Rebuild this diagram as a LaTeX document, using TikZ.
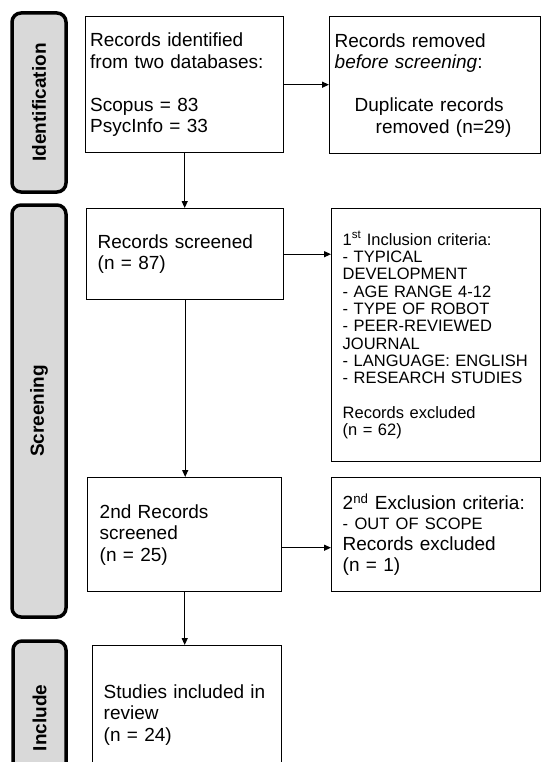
\documentclass[tikz,border=0pt]{standalone}
\usepackage{fontspec}
\setmainfont{Liberation Sans}
\usetikzlibrary{arrows.meta}
\definecolor{bargray}{HTML}{D9D9D9}

\begin{document}
\begin{tikzpicture}[x=1pt,y=-1pt,
    font=\fontsize{19}{21.5}\selectfont,
    >={Triangle[length=7pt,width=6pt]},
    box/.style={draw,line width=1.4pt,anchor=north west,align=left,inner ysep=0pt},
    phase/.style={draw,line width=3.5pt,fill=bargray,rounded corners=9pt,rotate=90,
        inner sep=0pt,font=\fontsize{19}{21.5}\selectfont\bfseries}]
    \useasboundingbox (0,0) rectangle (542,762);
    \clip (0,0) rectangle (542,762);

    % Phase bars
    \node[phase,minimum width=179pt,minimum height=54pt] (identbar) at (39,102.5) {Identification};
    \node[phase,minimum width=412pt,minimum height=54pt] (screenbar) at (39,411) {Screening};
    \node[phase,minimum width=154pt,minimum height=53pt] (includebar) at (39.5,718) {Include};

    % Identification
    \node[box,minimum width=198pt,minimum height=136pt,inner xsep=4.5pt,text width=189pt] (records) at (85,16)
        {Records identified\\from two databases:\\[21.5pt]Scopus = 83\\PsycInfo = 33};
    \node[box,minimum width=211pt,minimum height=137pt,inner xsep=5pt,text width=201pt] (removed) at (329,16)
        {Records removed\\\textit{before screening}:\\[21.5pt]\hspace*{20pt}Duplicate records\\\hspace*{41pt}removed (n=29)};

    % Screening
    \node[box,minimum width=197pt,minimum height=91pt,inner xsep=11pt,text width=175pt] (screened) at (86,208)
        {Records screened\\(n = 87)};
    \node[box,minimum width=209pt,minimum height=253pt,inner xsep=11pt,text width=187pt,
        font=\fontsize{16.5}{17.3}\selectfont] (criteria1) at (331,208)
        {1\textsuperscript{st} Inclusion criteria:\\- TYPICAL\\DEVELOPMENT\\- AGE RANGE 4-12\\- TYPE OF ROBOT\\
         - PEER-REVIEWED\\JOURNAL\\- LANGUAGE: ENGLISH\\- RESEARCH STUDIES\\[17.3pt]Records excluded\\(n = 62)};
    \node[box,minimum width=194pt,minimum height=114pt,inner xsep=12pt,text width=170pt] (screened2) at (87,477)
        {2nd Records\\screened\\(n = 25)};
    \node[box,minimum width=209pt,minimum height=114pt,inner xsep=11pt,text width=187pt] (criteria2) at (331,477)
        {2\textsuperscript{nd} Exclusion criteria:\\[-2pt]{\fontsize{16.5}{17.3}\selectfont - OUT OF SCOPE}\\[-0.7pt]
         Records excluded\\(n = 1)};
    \coordinate (exit2) at ([yshift=-13pt]screened2.east);

    % Include
    \node[box,minimum width=189pt,minimum height=138pt,inner xsep=11pt,text width=167pt] (included) at (92,645)
        {Studies included in\\review\\(n = 24)};

    % Connectors
    \draw[->,line width=1.2pt] (records.east) -- (removed.west |- records.east);
    \draw[->,line width=1.2pt] (records.south) -- (records.south |- screened.north);
    \draw[->,line width=1.2pt] (screened.east) -- (criteria1.west |- screened.east);
    \draw[->,line width=1.2pt] (screened.south) -- (screened.south |- screened2.north);
    \draw[->,line width=1.2pt] (exit2) -- (criteria2.west |- exit2);
    \draw[->,line width=1.2pt] (screened2.south) -- (screened2.south |- included.north);
\end{tikzpicture}
\end{document}
